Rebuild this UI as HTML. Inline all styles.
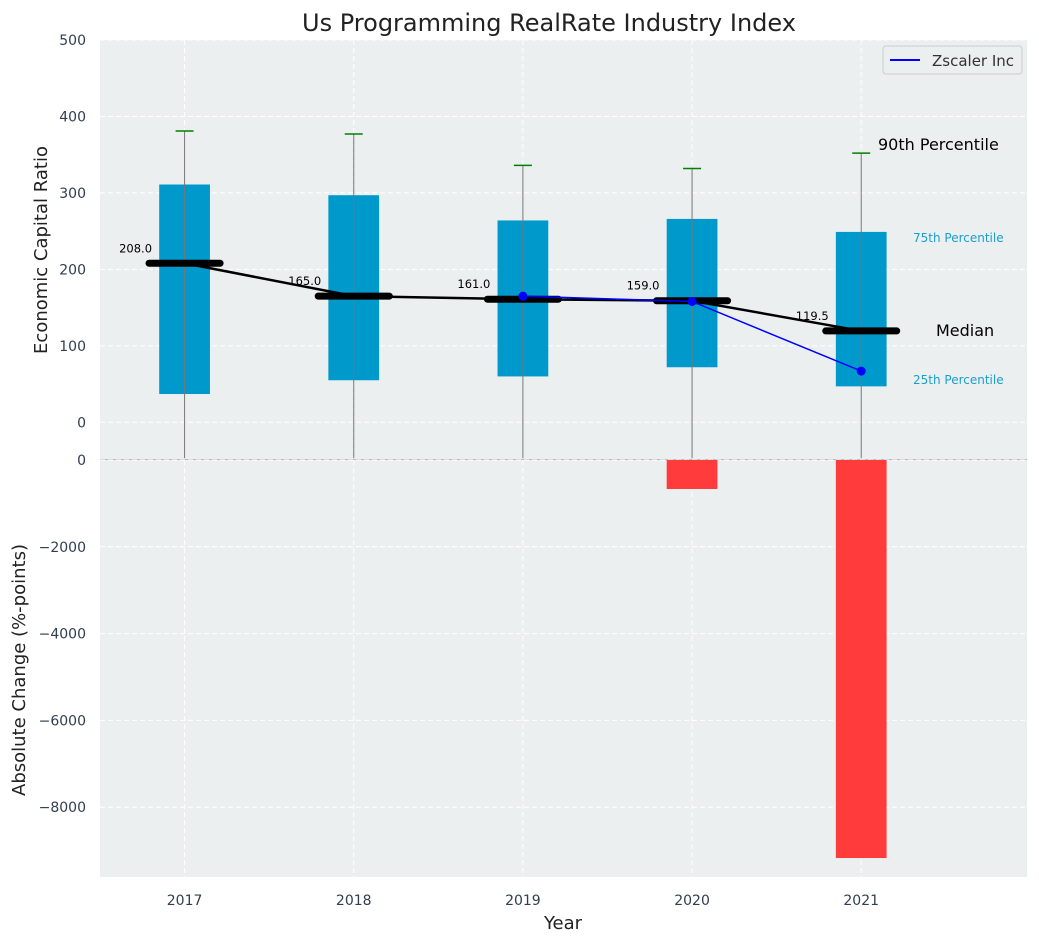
<!DOCTYPE html>
<html><head><meta charset="utf-8"><style>
body{margin:0;background:#fff;font-family:"DejaVu Sans","Liberation Sans",sans-serif}
</style></head><body>
<svg id="c" width="1039" height="942" xmlns="http://www.w3.org/2000/svg" font-family="DejaVu Sans, Liberation Sans, sans-serif"></svg>
<script>
const years=['2017','2018','2019','2020','2021'];
const p25=[37,55,60,72,47];
const p75=[311,297,264,266,249];
const p90=[381,377,336,332,352];
const medians=[208,165,161,159,119.5];
const zscalerYears=[2,3,4];
const zscalerVals=[165,158,67];
const changes=[0,0,0,-668,-9171];
const topTicks=[0,100,200,300,400,500];
const botTicks=[0,-2000,-4000,-6000,-8000];

const svg=document.getElementById('c');
const NS='http://www.w3.org/2000/svg';
function el(t,a,p){const e=document.createElementNS(NS,t);for(const k in a)e.setAttribute(k,a[k]);(p||svg).appendChild(e);return e;}
const X0=100,X1=1027;
const xs=i=>X0+(i+0.5)/5.48*(X1-X0);
const T0=40,T1=459,tmin=-48,tmax=500;
const yt=v=>T1-(v-tmin)/(tmax-tmin)*(T1-T0);
const B0=460,B1=877,bmin=-9608;
const yb=v=>B0+(v/bmin)*(B1-B0);
const step=xs(1)-xs(0);

let bg=el('rect',{x:X0,y:T0,width:X1-X0,height:T1-T0,fill:'#ebeff0'});

let bg2=el('rect',{x:X0,y:B0,width:X1-X0,height:B1-B0,fill:'#ebeff0'});

el('line',{x1:X0,x2:X1,y1:459.5,y2:459.5,stroke:'#bbb','stroke-width':1});

topTicks.forEach(v=>{const l=el('line',{x1:X0,x2:X1,y1:yt(v),y2:yt(v),stroke:'#fff','stroke-dasharray':'5,3'});
const t=el('text',{x:86,y:yt(v)+5,'text-anchor':'end','font-size':14,fill:'#2f3e50'});t.textContent=v;});
botTicks.forEach(v=>{const l=el('line',{x1:X0,x2:X1,y1:yb(v),y2:yb(v),stroke:'#fff','stroke-dasharray':'5,3'});
const t=el('text',{x:86,y:yb(v)+5,'text-anchor':'end','font-size':14,fill:'#2f3e50'});t.textContent=(v<0?'\u2212'+(-v):v);});
years.forEach((y,i)=>{[[T0,T1],[B0,B1]].forEach(r=>{const l=el('line',{x1:xs(i),x2:xs(i),y1:r[0],y2:r[1],stroke:'#fff','stroke-dasharray':'5,3'});});
const t=el('text',{x:xs(i),y:905,'text-anchor':'middle','font-size':14,fill:'#2f3e50'});t.textContent=y;});

years.forEach((y,i)=>{const cx=xs(i),w=0.3*step;
const b=el('rect',{x:cx-w/2,y:yt(p75[i]),width:w,height:yt(p25[i])-yt(p75[i]),fill:'#0099cc'});
const wk=el('line',{x1:cx,x2:cx,y1:yt(p90[i]),y2:yt(0)+36,stroke:'#777','stroke-width':1});
const cap=el('line',{x1:cx-9,x2:cx+9,y1:yt(p90[i]),y2:yt(p90[i]),stroke:'green','stroke-width':1.5});
if(changes[i]!==0){const r=el('rect',{x:cx-w/2,y:B0,width:w,height:yb(changes[i])-B0,fill:'#ff3b3b'});}
});
let pts=medians.map((m,i)=>xs(i)+','+yt(m)).join(' ');
const ml=el('polyline',{points:pts,fill:'none',stroke:'#000','stroke-width':2.5});
medians.forEach((m,i)=>{const cx=xs(i),h=0.21*step;
const s=el('line',{x1:cx-h,x2:cx+h,y1:yt(m),y2:yt(m),stroke:'#000','stroke-width':7,'stroke-linecap':'round'});
const t=el('text',{x:cx-49,y:yt(m)-11,'text-anchor':'middle','font-size':11.5,fill:'#000'});t.textContent=m.toFixed(1);});
const zp=zscalerYears.map((k,j)=>xs(k)+','+yt(zscalerVals[j])).join(' ');
const zl=el('polyline',{points:zp,fill:'none',stroke:'blue','stroke-width':1.5});
zscalerYears.forEach((k,j)=>{const c=el('circle',{cx:xs(k),cy:yt(zscalerVals[j]),r:4.5,fill:'blue'});});
const ann=[['90th Percentile',878,150,16,'#000','start'],['75th Percentile',913,242,12,'#1a9fcc','start'],['Median',936,336,16,'#000','start'],['25th Percentile',913,384,12,'#1a9fcc','start']];
ann.forEach(a=>{const t=el('text',{x:a[1],y:a[2],'font-size':a[3],fill:a[4],'text-anchor':a[5]});t.textContent=a[0];});
const lg=el('g',{});
el('rect',{x:883,y:46,width:139,height:28,rx:3,fill:'#ebeff0',stroke:'#ccc'},lg);
el('line',{x1:890,x2:920,y1:60,y2:60,stroke:'blue','stroke-width':2},lg);
const lt=el('text',{x:932,y:66,'font-size':15,fill:'#333'},lg);lt.textContent='Zscaler Inc';
const ti=el('text',{x:549,y:31,'text-anchor':'middle','font-size':24,fill:'#222'});ti.textContent='Us Programming RealRate Industry Index';
const xt=el('text',{x:563,y:929,'text-anchor':'middle','font-size':18,fill:'#222'});xt.textContent='Year';
const y1=el('text',{x:0,y:0,'text-anchor':'middle','font-size':18,fill:'#222',transform:'translate(47,250) rotate(-90)'});y1.textContent='Economic Capital Ratio';
const y2=el('text',{x:0,y:0,'text-anchor':'middle','font-size':18,fill:'#222',transform:'translate(25,670) rotate(-90)'});y2.textContent='Absolute Change (%-points)';
</script>
</body></html>
